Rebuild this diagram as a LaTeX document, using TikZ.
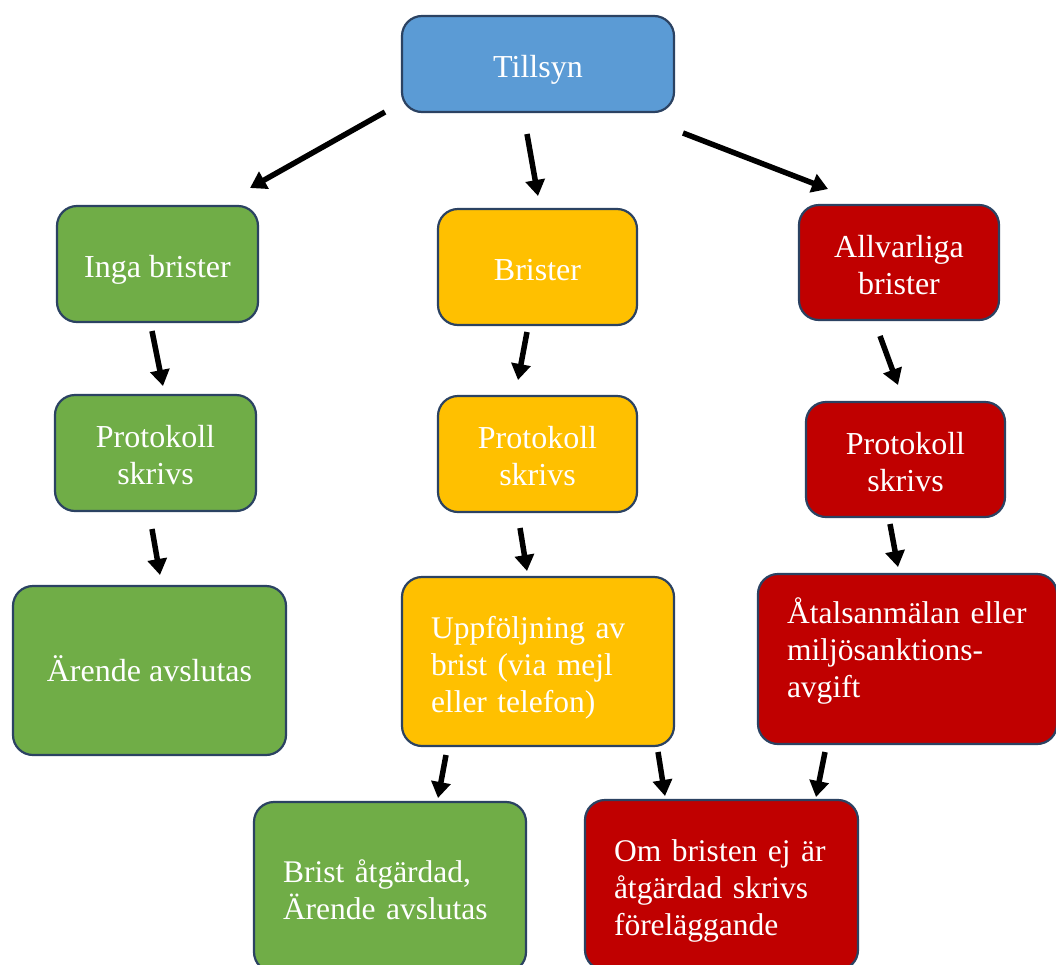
\documentclass[tikz,border=0pt]{standalone}
\usepackage{fontspec}
\setmainfont{Liberation Serif}
\usetikzlibrary{arrows.meta}
\definecolor{cblue}{HTML}{5B9BD5}
\definecolor{cgreen}{HTML}{70AD47}
\definecolor{cyellow}{HTML}{FFC000}
\definecolor{cred}{HTML}{C00000}
\definecolor{cborder}{HTML}{2B4262}
\newcommand{\myfirststrut}{\rule{0pt}{34pt}}
\tikzset{
  tdepth/.store in=\mytdepth, tdepth=8pt,
  box/.style={draw=cborder, line width=2.2pt, rounded corners=20pt, text=white,
    inner sep=0pt, align=center, font=\fontsize{32}{37}\selectfont,
    execute at begin node={\rule{0pt}{35pt}},
    execute at end node={\rule[-\mytdepth]{0pt}{0pt}}},
  lbox/.style={align=left, text width=#1, font=\fontsize{31.5}{37}\selectfont},
  arr/.style={line width=5.5pt, -{Triangle[length=16pt,width=19pt]}}
}
\begin{document}
\begin{tikzpicture}[x=1pt,y=-1pt]
\clip (0,0) rectangle (1056,964);
\fill[white] (0,0) rectangle (1056,964);
% row 0
\node[box, fill=cblue, minimum width=272pt, minimum height=96pt] (t) at (538,64) {Tillsyn};
% row 1
\node[box, fill=cgreen, minimum width=201pt, minimum height=116pt] (inga) at (157.5,264) {Inga brister};
\node[box, fill=cyellow, minimum width=199pt, minimum height=116pt] (br) at (537.5,267) {Brister};
\node[box, fill=cred, minimum width=200pt, minimum height=115pt] (allv) at (899,262.5) {\myfirststrut Allvarliga\\brister};
% row 2
\node[box, fill=cgreen, minimum width=201pt, minimum height=116pt] (p1) at (155.5,453) {\myfirststrut Protokoll\\skrivs};
\node[box, fill=cyellow, minimum width=199pt, minimum height=116pt] (p2) at (537.5,454) {\myfirststrut Protokoll\\skrivs};
\node[box, fill=cred, minimum width=199pt, minimum height=115pt] (p3) at (905.5,459.5) {\myfirststrut Protokoll\\skrivs};
% row 3
\node[box, fill=cgreen, minimum width=273pt, minimum height=169pt, tdepth=14pt] (ar) at (149.5,670.5) {Ärende avslutas};
\node[box, lbox=214pt, fill=cyellow, minimum width=272pt, minimum height=169pt] (up) at (538,661.5) {Uppföljning av\\brist (via mejl\\eller telefon)};
\node[box, lbox=241pt, fill=cred, minimum width=299pt, minimum height=170pt, tdepth=32pt] (at) at (907.5,659) {Åtalsanmälan eller\\miljösanktions-\\avgift};
% row 4
\node[box, lbox=214pt, fill=cgreen, minimum width=272pt, minimum height=170pt] (ba) at (390,887) {Brist åtgärdad,\\Ärende avslutas};
\node[box, lbox=215pt, fill=cred, minimum width=273pt, minimum height=170pt] (om) at (721.5,885) {Om bristen ej är\\åtgärdad skrivs\\föreläggande};
% arrow end points
\coordinate (a1s) at (385,112); \coordinate (a1e) at (250,188);
\coordinate (a2s) at (527,134); \coordinate (a2e) at (538,196);
\coordinate (a3s) at (683,133); \coordinate (a3e) at (828,189);
\coordinate (a4s) at (152,331); \coordinate (a4e) at (163,386);
\coordinate (a5s) at (527,332); \coordinate (a5e) at (518,380);
\coordinate (a6s) at (880,336); \coordinate (a6e) at (898,385);
\coordinate (a7s) at (152,529); \coordinate (a7e) at (160,575);
\coordinate (a8s) at (520,528); \coordinate (a8e) at (527,571);
\coordinate (a9s) at (890,524); \coordinate (a9e) at (898,567);
\coordinate (a10s) at (446,755); \coordinate (a10e) at (438,798);
\coordinate (a11s) at (658,752); \coordinate (a11e) at (665,796);
\coordinate (a12s) at (825,752); \coordinate (a12e) at (816,797);
\foreach \i in {1,...,12} { \draw[arr] (a\i s) -- (a\i e); }
\end{tikzpicture}
\end{document}
